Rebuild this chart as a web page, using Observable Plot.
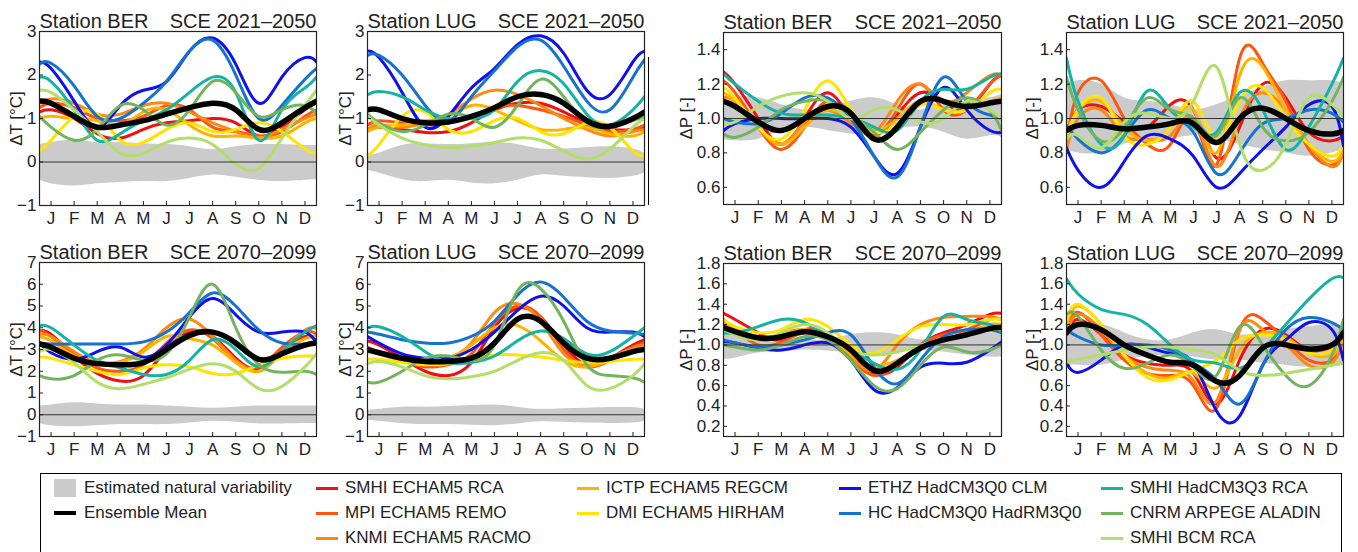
<!DOCTYPE html>
<html><head><meta charset="utf-8">
<script src="https://cdn.jsdelivr.net/npm/d3@7"></script>
<script src="https://cdn.jsdelivr.net/npm/@observablehq/plot@0.6"></script>
<style>
body{margin:0;background:#fff;}
#root{position:relative;width:1358px;height:552px;overflow:hidden;background:#fff;font-family:"Liberation Sans",Arial,Helvetica,sans-serif;color:#222;}
.panel{position:absolute;}
.lg-box{position:absolute;left:40px;top:473px;width:1302px;height:100px;border:1px solid #000;box-sizing:border-box;}
.lg-txt{position:absolute;font-size:17px;line-height:20px;white-space:nowrap;color:#222;}
.lg-line{position:absolute;width:22px;height:3px;}
</style></head><body><div id="root"></div><script>
// ---------------- data ----------------
const months = ["J","F","M","A","M","J","J","A","S","O","N","D"];
const models = ["SMHI ECHAM5 RCA","MPI ECHAM5 REMO","KNMI ECHAM5 RACMO","ICTP ECHAM5 REGCM","DMI ECHAM5 HIRHAM",
                "ETHZ HadCM3Q0 CLM","HC HadCM3Q0 HadRM3Q0","SMHI HadCM3Q3 RCA","CNRM ARPEGE ALADIN","SMHI BCM RCA"];
const modelColors = ["#ee1111","#ff5511","#ff8811","#ffb300","#ffe400","#1010ee","#1573cf","#14b3a3","#72b35e","#b3de6a"];
// sample positions: left frame edge, J..D, right frame edge
const samplePos = [0.5,1,2,3,4,5,6,7,8,9,10,11,12,12.5];

// Station BER, temperature, 2021-2050
const berT2021 = [
  [1.15,1.2,1.0,0.65,0.55,0.75,0.9,0.95,1.0,0.9,0.6,0.8,1.2,1.35],
  [1.25,1.35,1.25,1.0,0.95,1.05,1.3,1.2,0.8,0.7,0.6,0.7,1.05,1.2],
  [1.35,1.45,1.35,1.1,1.1,1.3,1.35,1.15,0.9,0.7,0.55,0.75,1.0,1.1],
  [1.0,1.05,1.0,0.95,0.85,1.15,1.2,0.85,0.6,0.6,0.55,0.6,0.9,1.0],
  [0.25,0.5,1.05,1.1,0.5,0.45,0.75,0.9,0.7,0.75,0.9,0.7,0.3,0.2],
  [2.3,2.15,1.4,0.8,1.3,1.65,1.85,2.55,2.85,2.25,1.35,1.95,2.4,2.3],
  [2.25,2.27,1.75,1.05,1.0,1.35,1.85,2.55,2.8,2.0,1.0,1.3,1.9,2.15],
  [1.95,1.85,1.2,0.5,0.65,0.95,1.2,1.6,1.95,1.6,0.5,1.2,1.7,1.95],
  [1.05,0.8,0.5,0.75,1.3,1.2,0.85,1.2,1.85,1.6,1.05,1.2,1.3,1.1],
  [1.65,1.6,1.2,0.7,0.2,0.2,0.45,0.55,0.4,-0.05,-0.15,0.55,1.3,1.65]];
const berT2021Mean = [1.4,1.35,1.05,0.8,0.85,0.95,1.1,1.25,1.35,1.2,0.75,0.9,1.25,1.4];
const berT2021Hi = [0.4,0.45,0.5,0.45,0.45,0.42,0.4,0.35,0.28,0.35,0.4,0.4,0.38,0.38];
const berT2021Lo = [-0.4,-0.5,-0.55,-0.5,-0.47,-0.45,-0.45,-0.38,-0.3,-0.35,-0.42,-0.45,-0.42,-0.4];

// Station LUG, temperature, 2021-2050
const lugT2021 = [
  [0.75,0.8,0.75,0.68,0.7,0.9,1.2,1.35,1.35,1.15,0.9,0.75,0.75,0.8],
  [0.85,0.95,0.9,0.85,0.9,1.05,1.25,1.3,1.2,1.05,0.85,0.7,0.75,0.85],
  [0.75,0.85,0.8,0.9,1.1,1.45,1.65,1.55,1.3,1.0,0.75,0.6,0.7,0.75],
  [0.7,0.8,0.85,0.95,1.05,1.3,1.2,0.95,0.75,0.75,0.8,0.65,0.6,0.7],
  [0.15,0.4,1.05,1.15,0.75,0.7,0.95,1.0,0.7,0.65,0.9,0.8,0.25,0.15],
  [2.55,2.4,1.6,0.8,1.05,1.7,2.15,2.7,2.9,2.5,1.65,1.55,2.3,2.55],
  [2.45,2.45,2.0,1.3,0.95,1.5,2.1,2.65,2.8,2.2,1.4,1.2,1.95,2.35],
  [1.55,1.62,1.5,1.2,1.0,1.0,1.2,1.85,2.1,1.8,1.1,0.85,1.2,1.5],
  [1.1,0.9,0.7,0.85,1.1,1.0,0.8,1.3,1.9,1.5,0.9,0.8,0.95,1.05],
  [1.05,0.85,0.55,0.4,0.33,0.37,0.45,0.55,0.5,0.25,0.07,0.3,0.8,1.0]];
const lugT2021Mean = [1.2,1.2,1.0,0.9,0.92,1.05,1.25,1.5,1.55,1.35,0.95,0.82,1.0,1.15];
const lugT2021Hi = [0.15,0.2,0.38,0.42,0.4,0.42,0.45,0.4,0.3,0.3,0.33,0.35,0.3,0.2];
const lugT2021Lo = [-0.2,-0.25,-0.4,-0.45,-0.42,-0.48,-0.5,-0.42,-0.3,-0.33,-0.36,-0.38,-0.33,-0.25];

// Station BER, precipitation, 2021-2050
const berP2021 = [
  [1.27,1.2,1.0,0.85,1.0,1.15,1.0,0.9,1.02,1.15,1.1,1.05,1.2,1.25],
  [1.22,1.15,0.95,0.82,0.95,1.1,1.0,0.9,1.05,1.2,1.05,1.05,1.2,1.25],
  [1.12,1.1,0.95,0.85,0.98,1.05,0.97,0.92,1.1,1.2,1.1,1.15,1.25,1.25],
  [1.15,1.1,0.95,0.85,0.95,1.05,1.0,0.93,1.0,1.1,1.05,1.05,1.1,1.12],
  [1.18,1.12,0.95,0.88,1.05,1.22,1.05,0.92,0.97,1.08,1.05,1.05,1.15,1.17],
  [0.93,0.97,1.0,1.0,1.0,1.0,0.95,0.78,0.68,0.95,1.18,1.05,0.93,0.92],
  [1.0,0.98,0.97,1.03,1.12,1.12,1.0,0.78,0.66,0.95,1.24,1.1,1.02,1.0],
  [1.26,1.2,1.1,1.03,1.02,1.02,1.0,0.95,0.93,1.1,1.17,1.17,1.24,1.26],
  [0.91,0.89,0.95,1.05,1.1,1.1,1.02,0.92,0.82,0.92,1.05,1.12,1.05,0.93],
  [0.97,0.98,1.07,1.13,1.15,1.1,1.0,1.05,1.05,0.98,1.0,1.1,1.05,1.0]];
const berP2021Mean = [1.1,1.07,0.98,0.93,1.0,1.07,1.03,0.88,0.95,1.1,1.1,1.07,1.09,1.1];
const berP2021Hi = [1.13,1.13,1.12,1.08,1.05,1.07,1.1,1.12,1.08,1.05,1.08,1.1,1.12,1.14];
const berP2021Lo = [0.88,0.87,0.88,0.93,0.95,0.93,0.91,0.91,0.94,0.95,0.92,0.88,0.9,0.89];

// Station LUG, precipitation, 2021-2050
const lugP2021 = [
  [0.9,1.05,1.07,0.98,0.95,1.08,1.05,0.77,0.95,1.2,1.12,0.92,0.87,0.9],
  [0.85,1.15,1.22,1.0,0.85,0.85,1.0,0.73,1.35,1.32,1.1,0.82,0.73,0.8],
  [0.82,1.0,1.05,0.9,0.88,0.9,1.0,0.72,1.0,1.15,1.05,0.85,0.72,0.8],
  [0.9,1.05,1.1,0.95,0.87,0.95,1.05,0.8,1.25,1.3,1.05,0.85,0.75,0.82],
  [0.9,1.05,1.12,0.9,0.85,0.95,1.1,0.88,1.1,1.18,1.0,0.85,0.78,0.85],
  [0.83,0.7,0.6,0.75,0.9,0.88,0.78,0.6,0.68,0.82,0.95,1.08,1.07,0.84],
  [0.96,0.88,0.8,0.9,1.05,1.0,0.92,0.68,0.8,0.97,1.0,1.05,1.03,0.98],
  [1.35,1.1,0.85,0.9,1.16,1.05,0.95,0.92,1.15,1.05,0.82,0.95,1.2,1.35],
  [1.24,1.05,0.87,0.95,1.12,1.05,1.0,0.9,1.12,0.95,0.87,0.92,1.1,1.24],
  [0.88,0.9,0.83,0.98,1.03,1.0,1.1,1.3,0.85,0.7,0.85,1.12,1.08,1.02]];
const lugP2021Mean = [0.93,0.96,0.96,0.94,0.95,0.97,0.97,0.86,1.0,1.06,1.0,0.93,0.91,0.93];
const lugP2021Hi = [1.2,1.22,1.2,1.12,1.1,1.08,1.05,1.08,1.13,1.18,1.22,1.22,1.22,1.2];
const lugP2021Lo = [0.82,0.8,0.8,0.85,0.87,0.88,0.9,0.88,0.85,0.82,0.8,0.78,0.8,0.82];

// Station BER, temperature, 2070-2099
const berT2070 = [
  [3.85,3.7,2.7,1.9,1.55,1.8,3.0,3.8,3.6,2.6,2.1,3.0,3.6,3.5],
  [3.9,3.6,2.8,2.15,2.0,2.3,3.3,3.9,3.5,2.5,2.2,3.1,3.8,3.7],
  [3.7,3.6,2.9,2.4,2.45,3.0,4.0,4.4,3.6,2.5,2.0,2.9,3.9,3.95],
  [3.6,3.4,2.7,2.3,2.4,2.9,3.6,3.5,3.2,2.4,2.0,2.8,3.5,3.6],
  [2.65,2.6,2.3,2.0,1.85,2.15,2.3,2.2,1.9,1.9,2.3,2.6,2.7,2.7],
  [3.3,2.85,2.55,2.9,3.1,2.65,3.2,4.5,5.35,4.6,3.8,3.8,3.8,3.3],
  [3.3,3.25,3.25,3.25,3.25,3.35,3.8,4.7,5.6,5.0,3.9,3.3,3.25,3.3],
  [4.1,4.0,3.2,2.5,2.15,1.85,1.85,2.5,3.45,3.0,2.2,2.9,3.8,4.1],
  [1.8,1.65,1.8,2.5,2.75,2.5,2.8,4.5,6.0,4.0,2.3,1.95,2.0,1.85],
  [2.9,3.0,2.4,1.5,1.2,1.4,1.7,2.1,2.35,2.0,1.2,1.3,2.2,2.8]];
const berT2070Mean = [3.25,3.1,2.6,2.35,2.3,2.4,3.0,3.65,3.8,3.3,2.55,2.8,3.2,3.3];
const berT2070Hi = [0.4,0.45,0.55,0.5,0.45,0.45,0.4,0.35,0.3,0.35,0.4,0.4,0.4,0.4];
const berT2070Lo = [-0.4,-0.5,-0.55,-0.5,-0.45,-0.45,-0.45,-0.38,-0.3,-0.35,-0.42,-0.42,-0.4,-0.4];

// Station LUG, temperature, 2070-2099
const lugT2070 = [
  [3.4,3.2,2.6,2.0,1.8,2.4,4.0,4.9,4.5,3.2,2.3,2.6,3.2,3.45],
  [3.1,2.9,2.5,2.2,2.3,2.8,4.2,5.0,4.5,3.0,2.2,2.5,3.1,3.3],
  [2.9,2.8,2.5,2.4,2.6,3.3,4.7,5.1,4.3,2.8,2.3,2.6,3.1,3.2],
  [3.0,2.8,2.5,2.4,2.6,3.2,4.0,4.1,3.4,2.5,2.2,2.5,2.9,3.0],
  [2.55,2.55,2.4,2.3,2.35,2.55,2.75,2.75,2.65,2.5,2.4,2.45,2.55,2.55],
  [3.6,3.3,2.8,2.6,2.6,3.0,3.8,4.8,5.45,5.0,4.0,3.8,3.8,3.6],
  [3.8,3.7,3.45,3.3,3.3,3.6,4.3,5.5,6.1,5.4,4.3,3.85,3.75,3.7],
  [4.0,4.05,3.6,2.9,2.4,2.4,2.7,3.4,3.85,3.5,2.8,2.9,3.6,4.0],
  [1.5,1.5,2.0,2.6,2.7,2.5,3.2,5.7,5.8,4.3,2.3,1.8,1.7,1.5],
  [2.35,2.45,2.2,1.8,1.65,1.75,2.0,2.5,2.85,2.5,1.35,1.2,1.8,2.35]];
const lugT2070Mean = [3.0,2.85,2.6,2.45,2.45,2.6,3.3,4.4,4.3,3.3,2.6,2.6,2.9,3.0];
const lugT2070Hi = [0.2,0.25,0.35,0.35,0.38,0.42,0.45,0.35,0.25,0.28,0.3,0.33,0.33,0.25];
const lugT2070Lo = [-0.25,-0.3,-0.4,-0.45,-0.45,-0.48,-0.5,-0.42,-0.32,-0.35,-0.38,-0.4,-0.38,-0.3];

// Station BER, precipitation, 2070-2099
const berP2070 = [
  [1.31,1.25,1.12,1.05,1.15,1.1,0.9,0.72,0.78,1.0,1.12,1.2,1.3,1.31],
  [1.25,1.15,1.0,1.03,1.12,1.05,0.85,0.7,0.8,1.0,1.1,1.15,1.25,1.25],
  [1.22,1.15,1.05,1.1,1.15,1.05,0.88,0.75,1.0,1.2,1.27,1.28,1.28,1.25],
  [1.2,1.15,1.08,1.1,1.15,1.08,0.9,0.8,0.85,0.98,1.05,1.12,1.2,1.2],
  [1.25,1.18,1.12,1.15,1.25,1.18,1.0,0.92,1.05,1.18,1.2,1.2,1.25,1.25],
  [1.03,1.02,0.97,0.95,1.0,1.02,0.85,0.56,0.58,0.78,0.82,0.83,0.95,1.03],
  [1.05,1.02,0.98,1.0,1.05,1.12,1.1,0.78,0.62,0.85,1.08,1.15,1.15,1.12],
  [1.12,1.12,1.18,1.25,1.22,1.08,0.95,0.82,0.76,0.95,1.28,1.25,1.2,1.13],
  [1.0,0.98,0.95,1.0,1.08,1.05,0.85,0.6,0.57,0.8,0.98,0.93,0.95,1.0],
  [1.15,1.1,1.05,1.12,1.2,1.12,0.95,0.9,0.93,1.0,1.05,1.1,1.15,1.15]];
const berP2070Mean = [1.17,1.13,1.07,1.08,1.13,1.08,0.95,0.75,0.82,0.97,1.05,1.1,1.16,1.17];
const berP2070Hi = [1.1,1.1,1.07,1.05,1.05,1.05,1.1,1.12,1.1,1.05,1.08,1.1,1.12,1.12];
const berP2070Lo = [0.86,0.87,0.92,0.93,0.95,0.94,0.92,0.9,0.92,0.94,0.93,0.9,0.88,0.88];

// Station LUG, precipitation, 2070-2099
const lugP2070 = [
  [1.1,1.25,1.1,0.9,0.82,0.8,0.72,0.42,0.85,1.15,1.1,0.95,0.98,1.05],
  [1.15,1.32,1.1,0.85,0.72,0.7,0.6,0.38,1.15,1.25,1.05,0.85,0.85,1.05],
  [1.1,1.3,1.15,0.9,0.78,0.75,0.65,0.45,1.15,1.15,1.0,0.8,0.82,1.05],
  [1.2,1.38,1.2,0.9,0.72,0.68,0.72,0.58,0.95,1.12,1.08,0.92,0.9,1.05],
  [1.25,1.4,1.2,0.9,0.68,0.66,0.75,0.85,1.05,1.1,1.05,0.92,0.95,1.1],
  [0.82,0.73,0.85,1.0,0.98,0.92,0.82,0.35,0.3,0.8,1.05,1.22,1.15,0.85],
  [1.15,1.08,1.0,1.0,1.0,0.95,0.82,0.65,0.42,0.8,1.15,1.27,1.22,1.15],
  [1.65,1.5,1.35,1.3,1.2,1.0,0.85,0.82,0.77,0.95,1.2,1.45,1.65,1.66],
  [1.3,1.28,0.95,0.77,0.82,0.9,0.78,0.7,1.18,1.0,0.7,0.6,0.9,1.25],
  [0.83,0.86,0.9,0.95,0.98,0.98,0.95,0.9,0.75,0.7,0.72,0.76,0.8,0.82]];
const lugP2070Mean = [1.12,1.2,1.15,1.0,0.9,0.83,0.8,0.64,0.7,0.97,1.0,0.96,1.0,1.12];
const lugP2070Hi = [1.2,1.2,1.2,1.12,1.05,1.05,1.12,1.15,1.1,1.12,1.15,1.18,1.2,1.18];
const lugP2070Lo = [0.8,0.8,0.8,0.85,0.88,0.9,0.88,0.85,0.85,0.82,0.8,0.78,0.8,0.8];

const tTicksTop = [-1,0,1,2,3];
const tTicksBottom = [-1,0,1,2,3,4,5,6,7];
const pTicksTop = [0.6,0.8,1.0,1.2,1.4];
const pTicksBottom = [0.2,0.4,0.6,0.8,1.0,1.2,1.4,1.6,1.8];

// ---------------- drawing ----------------
const root = document.getElementById("root");
const FONT = '"Liberation Sans", Arial, Helvetica, sans-serif';
const rowsOf = vals => vals.map((v, i) => ({x: samplePos[i], y: v}));

function panel(o) {
  const mL = 52, mR = 14, mT = 32, mB = 32;
  const fw = o.R - o.L, fh = o.B - o.T;
  const band = samplePos.map((x, i) => ({x, lo: o.lo[i], hi: o.hi[i]}));
  const marks = [
    Plot.areaY(band, {x: "x", y1: "lo", y2: "hi", fill: "#cbcbcb", curve: "natural", clip: true}),
    ...o.series.map((s, i) => Plot.line(rowsOf(s), {x: "x", y: "y", stroke: modelColors[i], strokeWidth: 3, curve: "natural", clip: true})),
    Plot.ruleY([o.ref], {stroke: "#333", strokeWidth: 1}),
    Plot.line(rowsOf(o.mean), {x: "x", y: "y", stroke: "#000", strokeWidth: 5.5, curve: "natural", clip: true}),
    Plot.frame({stroke: "#222", strokeWidth: 1.2}),
    Plot.tickX(d3.range(1, 13), {x: d => d, insetTop: fh - 4, stroke: "#222"}),
    Plot.tickY(o.ticks, {y: d => d, insetRight: fw - 4, stroke: "#222"}),
    Plot.axisX(d3.range(1, 13), {tickSize: 0, tickPadding: 6, tickFormat: d => months[d - 1], label: null}),
    Plot.axisY(o.ticks, {tickSize: 0, tickPadding: 3, tickFormat: o.fmt, label: null}),
    Plot.text([o.ylabel], {text: d => d, frameAnchor: "left", rotate: -90, textAnchor: "middle", lineAnchor: "middle", dx: -o.labelOffset, fontSize: 17, fill: "#222"}),
    Plot.text([o.station], {text: d => d, frameAnchor: "top-left", textAnchor: "start", lineAnchor: "bottom", dy: -4, fontSize: 20, fill: "#222"}),
    Plot.text([o.period], {text: d => d, frameAnchor: "top-right", textAnchor: "end", lineAnchor: "bottom", dy: -4, fontSize: 20, fill: "#222"})
  ];
  const svg = Plot.plot({
    width: fw + mL + mR, height: fh + mT + mB,
    marginLeft: mL, marginRight: mR, marginTop: mT, marginBottom: mB,
    x: {domain: [0.5, 12.5]},
    y: {domain: o.domain},
    style: {fontFamily: FONT, fontSize: "17px", color: "#222", background: "transparent", overflow: "visible"},
    marks
  });
  svg.classList.add("panel");
  svg.style.left = (o.L - mL) + "px";
  svg.style.top = (o.T - mT) + "px";
  root.appendChild(svg);
}

const fmtT = d3.format("d"), fmtP = d3.format(".1f");
const tLab = "ΔT [°C]", pLab = "ΔP [-]";
panel({L: 39, R: 316, T: 31, B: 205, series: berT2021, mean: berT2021Mean, lo: berT2021Lo, hi: berT2021Hi, domain: [-1, 3], ticks: tTicksTop, fmt: fmtT, ylabel: tLab, labelOffset: 23, ref: 0, station: "Station BER", period: "SCE 2021–2050"});
panel({L: 367, R: 644, T: 31, B: 205, series: lugT2021, mean: lugT2021Mean, lo: lugT2021Lo, hi: lugT2021Hi, domain: [-1, 3], ticks: tTicksTop, fmt: fmtT, ylabel: tLab, labelOffset: 22, ref: 0, station: "Station LUG", period: "SCE 2021–2050"});
panel({L: 723, R: 1001, T: 32, B: 204, series: berP2021, mean: berP2021Mean, lo: berP2021Lo, hi: berP2021Hi, domain: [0.5, 1.5], ticks: pTicksTop, fmt: fmtP, ylabel: pLab, labelOffset: 37, ref: 1, station: "Station BER", period: "SCE 2021–2050"});
panel({L: 1066, R: 1343, T: 32, B: 204, series: lugP2021, mean: lugP2021Mean, lo: lugP2021Lo, hi: lugP2021Hi, domain: [0.5, 1.5], ticks: pTicksTop, fmt: fmtP, ylabel: pLab, labelOffset: 34, ref: 1, station: "Station LUG", period: "SCE 2021–2050"});
panel({L: 39, R: 316, T: 262, B: 436, series: berT2070, mean: berT2070Mean, lo: berT2070Lo, hi: berT2070Hi, domain: [-1, 7], ticks: tTicksBottom, fmt: fmtT, ylabel: tLab, labelOffset: 23, ref: 0, station: "Station BER", period: "SCE 2070–2099"});
panel({L: 367, R: 644, T: 262, B: 436, series: lugT2070, mean: lugT2070Mean, lo: lugT2070Lo, hi: lugT2070Hi, domain: [-1, 7], ticks: tTicksBottom, fmt: fmtT, ylabel: tLab, labelOffset: 22, ref: 0, station: "Station LUG", period: "SCE 2070–2099"});
panel({L: 723, R: 1001, T: 263, B: 436, series: berP2070, mean: berP2070Mean, lo: berP2070Lo, hi: berP2070Hi, domain: [0.1, 1.8], ticks: pTicksBottom, fmt: fmtP, ylabel: pLab, labelOffset: 37, ref: 1, station: "Station BER", period: "SCE 2070–2099"});
panel({L: 1066, R: 1343, T: 263, B: 436, series: lugP2070, mean: lugP2070Mean, lo: lugP2070Lo, hi: lugP2070Hi, domain: [0.1, 1.8], ticks: pTicksBottom, fmt: fmtP, ylabel: pLab, labelOffset: 34, ref: 1, station: "Station LUG", period: "SCE 2070–2099"});

// stray vertical rule right of the second top panel (as in the reference)
const stray = document.createElement("div");
stray.style.cssText = "position:absolute;left:648px;top:57px;width:1px;height:148px;background:#000;";
root.appendChild(stray);

// ---------------- legend ----------------
const box = document.createElement("div");
box.className = "lg-box";
root.appendChild(box);
function addText(txt, x, y) {
  const d = document.createElement("div");
  d.className = "lg-txt"; d.textContent = txt;
  d.style.left = x + "px"; d.style.top = (y - 10) + "px";
  root.appendChild(d);
}
function addLine(color, x, y, h) {
  const d = document.createElement("div");
  d.className = "lg-line"; d.style.background = color;
  d.style.left = x + "px"; d.style.top = (y - h / 2) + "px"; d.style.height = h + "px";
  root.appendChild(d);
}
const sw = document.createElement("div");
sw.style.cssText = "position:absolute;left:54px;top:479px;width:22px;height:18px;background:#cbcbcb;";
root.appendChild(sw);
addText("Estimated natural variability", 84, 488);
addLine("#000", 54, 513, 4);
addText("Ensemble Mean", 84, 513);
const legendCols = [[316, [0, 1, 2]], [577, [3, 4]], [839, [5, 6]], [1101, [7, 8, 9]]];
const rowY = [488, 513, 538];
legendCols.forEach(([x, idx]) => idx.forEach((m, r) => {
  addLine(modelColors[m], x, rowY[r], 3);
  addText(models[m], x + 29, rowY[r]);
}));
</script></body></html>
